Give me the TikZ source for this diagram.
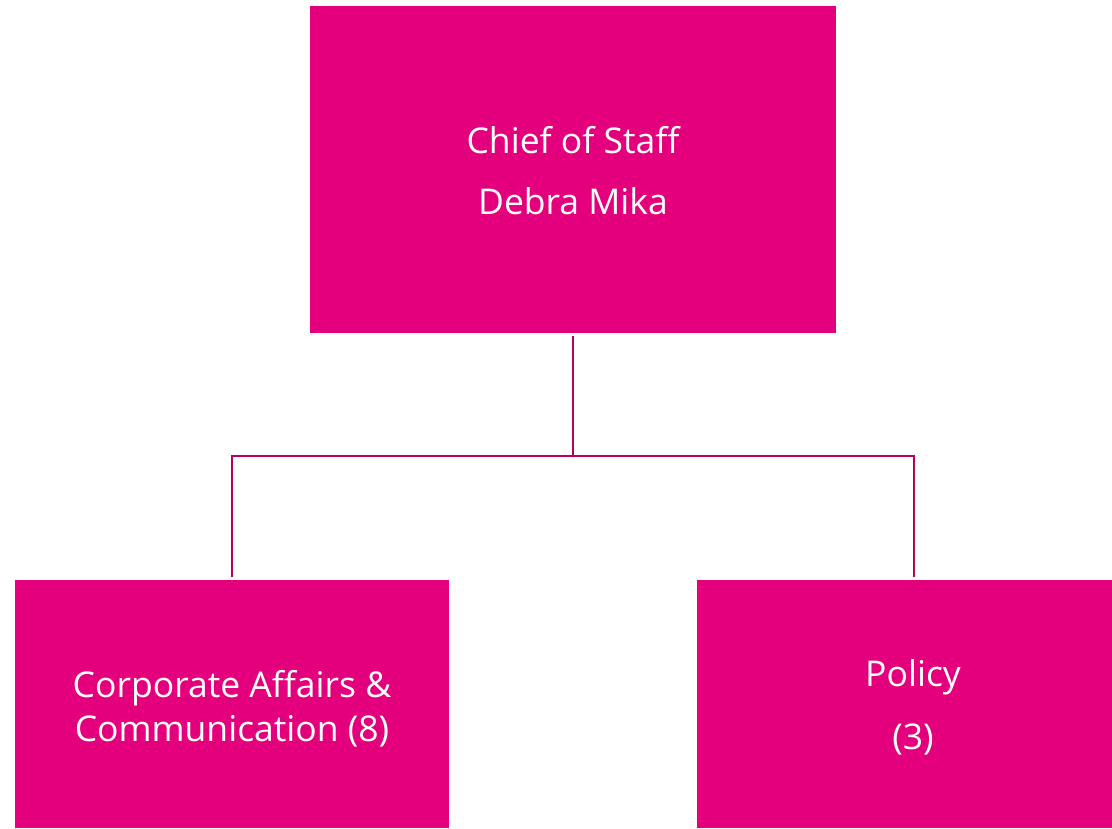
\documentclass[tikz,border=0pt]{standalone}
\usepackage{fontspec}
\setmainfont{Open Sans}
\definecolor{boxpink}{HTML}{E4007C}
\definecolor{linepink}{HTML}{B8005F}
\begin{document}
\begin{tikzpicture}[x=1pt,y=-1pt,
  orgbox/.style={fill=boxpink, draw=none, inner sep=0pt},
  lbl/.style={text=white, font=\fontsize{35.5}{40}\selectfont, inner sep=0pt, anchor=base},
  conn/.style={draw=linepink, line width=2pt}]
\useasboundingbox (0,0) rectangle (1112,828);
\node[orgbox, minimum width=526pt, minimum height=327pt] (top) at (573,169.5) {};
\node[orgbox, minimum width=434pt, minimum height=248pt] (left) at (232,704) {};
\node[orgbox, minimum width=415pt, minimum height=248pt] (right) at (904.5,704) {};
\node[lbl] (t1) at (573,153) {Chief of Staff};
\node[lbl] (t2) at (573,214) {Debra Mika};
\node[lbl] (l1) at (232,697) {Corporate Affairs \&};
\node[lbl] (l2) at (232,741) {Communication (8)};
\node[lbl] (r1) at (913,686) {Policy};
\node[lbl] (r2) at (913,749) {(3)};
\coordinate (j) at (573,456);
\coordinate (jl) at (232,456);
\coordinate (jr) at (914,456);
\draw[conn] ([yshift=-3pt]top.south) -- (j) -- (jl) -- ([yshift=3pt]left.north -| jl);
\draw[conn] (j) -- (jr) -- ([yshift=3pt]right.north -| jr);
\end{tikzpicture}
\end{document}
